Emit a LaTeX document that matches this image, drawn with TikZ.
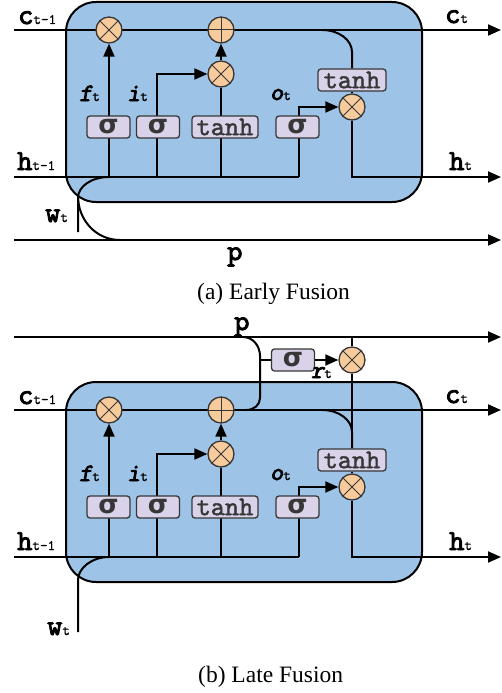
\documentclass[tikz,border=0pt]{standalone}
\usepackage{fontspec}
\setmainfont{Liberation Serif}
\newfontfamily\greekfont{DejaVu Sans}
\newfontfamily\heavytt{lmmono10-regular.otf}[FakeBold=3]
\newfontfamily\mediumtt{lmmono10-regular.otf}[FakeBold=1.5]
\newfontfamily\heavyttsl{lmmonoslant10-regular.otf}[FakeBold=3]
\newfontfamily\plaintt{lmmono10-regular.otf}[FakeBold=0.8]
\usetikzlibrary{arrows.meta,calc}

\definecolor{cellblue}{RGB}{157,195,230}
\definecolor{gatefill}{RGB}{217,210,233}
\definecolor{opfill}{RGB}{248,203,156}
\definecolor{gateedge}{RGB}{55,55,55}

% vector labels (heavy typewriter letter, plain typewriter subscript)
\newcommand\veclab[2]{{\fontsize{29}{29}\heavytt #1}{\fontsize{14.5}{14.5}\plaintt #2}}
% gate labels (heavy slanted typewriter letter)
\newcommand\gatelab[2]{{\fontsize{25}{25}\heavyttsl #1}{\fontsize{14.5}{14.5}\plaintt #2}}

\pgfdeclarelayer{cellbg}
\pgfdeclarelayer{wires}
\pgfsetlayers{cellbg,wires,main}

\tikzset{
  wire/.style={line width=2pt, draw=black},
  flow/.style={wire, -{Triangle[length=13pt,width=11pt]}},
  cellframe/.style={line width=2pt, draw=black, fill=cellblue, rounded corners=30pt},
  gatebox/.style={draw=gateedge, fill=gatefill, line width=1.3pt, rounded corners=3pt,
    minimum height=22pt, inner sep=0pt, text=gateedge},
  sig/.style={gatebox, minimum width=43pt, font=\fontsize{26}{26}\greekfont\bfseries},
  tanhbox/.style={gatebox, minimum width=66pt, font=\fontsize{27}{27}\mediumtt},
  op/.style={circle, draw=gateedge, fill=opfill, line width=1.3pt, minimum size=26pt, inner sep=0pt},
  mul/.style={op, path picture={
      \draw[line width=1pt, gateedge] (path picture bounding box.north west) -- (path picture bounding box.south east)
        (path picture bounding box.north east) -- (path picture bounding box.south west);}},
  add/.style={op, path picture={
      \draw[line width=1pt, gateedge] (path picture bounding box.north) -- (path picture bounding box.south)
        (path picture bounding box.east) -- (path picture bounding box.west);}},
  lbl/.style={anchor=base west, inner sep=0pt},
  caption/.style={anchor=base west, inner sep=0pt, font=\fontsize{23.5}{23.5}\selectfont},
}

% one LSTM cell; #1 = name prefix, #2 = vertical offset
\newcommand\lstmcell[2]{%
\begin{scope}[shift={(0,#2)}]
  \node[mul] (#1fmul) at (109,30) {};
  \node[add] (#1add) at (221,30) {};
  \node[mul] (#1imul) at (221,74) {};
  \node[mul] (#1omul) at (352,107) {};
  \node[sig] (#1fg) at (108.5,127) {σ};
  \node[sig] (#1ig) at (158,127) {σ};
  \node[tanhbox] (#1cg) at (225,127) {tanh};
  \node[sig] (#1og) at (297.5,127) {σ};
  \node[tanhbox, minimum width=68pt] (#1tc) at (352,80) {tanh};
  \node[lbl] (#1cinl) at (18,24) {\veclab{c}{t-1}};
  \node[lbl] (#1coutl) at (445,23) {\veclab{c}{t}};
  \node[lbl] (#1hinl) at (17,170) {\veclab{h}{t-1}};
  \node[lbl] (#1houtl) at (449,170) {\veclab{h}{t}};
  \node[lbl] (#1fl) at (79,101) {\gatelab{f}{t}};
  \node[lbl] (#1il) at (127,101) {\gatelab{i}{t}};
  \node[lbl] (#1ol) at (270,100) {\gatelab{o}{t}};
  \coordinate (#1cin) at (14,30);
  \coordinate (#1cout) at (501,30);
  \coordinate (#1hin) at (14,177);
  \coordinate (#1hout) at (501,177);
  \coordinate (#1fbase) at (109,177);
  \coordinate (#1ibase) at (157,177);
  \coordinate (#1cbase) at (221,177);
  \coordinate (#1obase) at (299,177);
  \coordinate (#1cbr) at (322,30);
  \begin{pgfonlayer}{cellbg}
    \draw[cellframe] (66,2) rectangle (422,202);
  \end{pgfonlayer}
  \begin{pgfonlayer}{wires}
    \draw[wire] (#1hin) -- (#1obase);
    \draw[flow] (#1cin) -- (#1cout);
    \draw[flow] (#1fbase) -- (#1fmul.south);
    \draw[flow] (#1ibase) |- (#1imul.west);
    \draw[wire] (#1cbase) -- (#1imul.south);
    \draw[flow] (#1imul.north) -- (#1add.south);
    \draw[flow] (#1obase) |- (#1omul.west);
    \draw[flow] (#1omul.south) |- (#1hout);
    \draw[wire] (#1cbr) .. controls (339,30) and (352,40) .. (352,52) -- (#1tc.north);
    \draw[wire] (#1tc.south) -- (#1omul.north);
  \end{pgfonlayer}
\end{scope}}

\begin{document}
\begin{tikzpicture}[x=1pt,y=-1pt]
\useasboundingbox (0,0) rectangle (501,693);

% ---------- (a) early fusion ----------
\lstmcell{a}{0}
\coordinate (awin) at (78,232);
\coordinate (apin) at (14,240);
\coordinate (apout) at (501,240);
\node[lbl] (awl) at (45,222) {\veclab{w}{t}};
\node[lbl] (apl) at (227,260) {\veclab{p}{}};
\begin{pgfonlayer}{wires}
  \draw[wire] (awin) -- (78,198) .. controls (78,186) and (92,177) .. (afbase);
  \draw[wire] (78,196) .. controls (78,220) and (96,240) .. (120,240);
  \draw[flow] (apin) -- (apout);
\end{pgfonlayer}
\node[caption] (capa) at (197,299) {(a) Early Fusion};

% ---------- (b) late fusion ----------
\lstmcell{b}{380}
\coordinate (bwin) at (78,632);
\coordinate (bpin) at (14,337);
\coordinate (bpout) at (501,337);
\node[lbl] (bwl) at (47,635) {\veclab{w}{t}};
\node[lbl] (bpl) at (234,330) {\veclab{p}{}};
\node[sig] (brg) at (293,360) {σ};
\node[mul] (brmul) at (352,360) {};
\node[lbl] (brl) at (311,378) {\gatelab{r}{t}};
\coordinate (bpr) at (352,337);
\coordinate (bloop) at (260,360);
\begin{pgfonlayer}{wires}
  \draw[wire] (bwin) -- (78,580) .. controls (78,568) and (92,557) .. (bfbase);
  \draw[flow] (bpin) -- (bpout);
  \draw[wire] (243,337) .. controls (253,337) and (260,346) .. (260,356) -- (260,398)
    .. controls (260,405) and (254,410) .. (246,410);
  \draw[wire] (bloop) -- (brg.west);
  \draw[flow] (brg.east) -- (brmul.west);
  \draw[wire] (bpr) -- (brmul.north);
  \draw[wire] (brmul.south) -- (btc.north);
\end{pgfonlayer}
\node[caption] (capb) at (198,682) {(b) Late Fusion};
\end{tikzpicture}
\end{document}
